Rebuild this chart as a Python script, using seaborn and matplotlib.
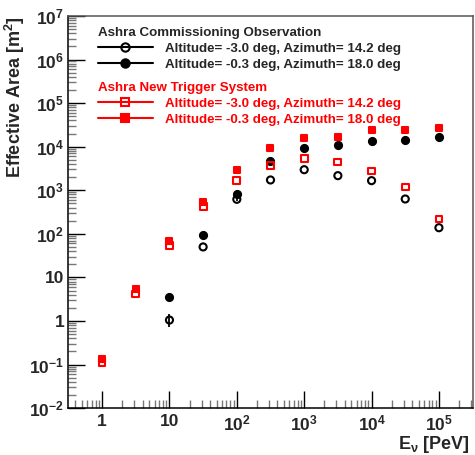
import numpy as np
import pandas as pd
import matplotlib
matplotlib.use("Agg")
import matplotlib.pyplot as plt
from matplotlib.lines import Line2D
from matplotlib.ticker import LogLocator, FixedLocator, FuncFormatter, NullFormatter
import seaborn as sns

# ---- data ----
energy = [1, 3.16, 10, 31.6, 100, 316, 1000, 3162, 1e4, 3.16e4, 1e5]
comm_alt30 = [np.nan, np.nan, 1.05, 50, 620, 1720, 2960, 2160, 1660, 630, 138]
comm_alt03 = [np.nan, np.nan, 3.5, 94, 800, 4770, 9480, 10800, 13500, 14000, 17000]
new_alt30 = [0.11, 4.15, 55, 420, 1660, 3660, 5400, 4450, 2770, 1190, 219]
new_alt03 = [0.135, 5.3, 69, 546, 2920, 9300, 15500, 16700, 24200, 24200, 26800]
err_x = [10, 10, 100, 100]
err_y = [1.05, 3.5, 620, 800]
err_lo = [0.33, 0.7, 60, 80]
err_hi = [0.37, 0.7, 60, 80]

labels = ["Altitude= -3.0 deg, Azimuth= 14.2 deg",
          "Altitude= -0.3 deg, Azimuth= 18.0 deg"]
header1 = "Ashra Commissioning Observation"
header2 = "Ashra New Trigger System"
xtick_vals = [1, 10, 1e2, 1e3, 1e4, 1e5]
ytick_vals = [1e-2, 1e-1, 1, 10, 1e2, 1e3, 1e4, 1e5, 1e6, 1e7]

sns.set_style("ticks")
plt.rcParams["font.family"] = ["Liberation Sans", "DejaVu Sans"]
plt.rcParams["font.weight"] = "bold"
plt.rcParams["mathtext.fontset"] = "custom"
plt.rcParams["mathtext.rm"] = "Liberation Sans:bold"
plt.rcParams["mathtext.it"] = "Liberation Sans:bold"
plt.rcParams["mathtext.bf"] = "Liberation Sans:bold"

fig = plt.figure(figsize=(4.75, 4.55), dpi=100)
ax = fig.add_axes([0.144, 0.103, 0.851, 0.862])

RED = "#ff0000"
series = [
    (comm_alt30, "o", "none", "black", 26),
    (comm_alt03, "o", "black", "black", 26),
    (new_alt30, "s", "none", RED, 24),
    (new_alt03, "s", RED, RED, 24),
]
for vals, mk, fc, ec, s in series:
    df = pd.DataFrame({"E": energy, "A": vals}).dropna()
    sns.scatterplot(data=df, x="E", y="A", marker=mk, s=s, facecolor=fc,
                    edgecolor=ec, linewidth=1.5, ax=ax, legend=False, zorder=3)

ax.errorbar(err_x, err_y, yerr=[err_lo, err_hi], fmt="none", ecolor="black",
            elinewidth=1.3, capsize=0, zorder=2)

ax.set_xscale("log")
ax.set_yscale("log")
ax.set_xlim(10**-0.5, 10**5.5)
ax.set_ylim(1e-2, 1e7)

def logfmt(v, pos):
    if abs(v - 1) < 1e-9:
        return "1"
    if abs(v - 10) < 1e-9:
        return "10"
    return r"$10^{%d}$" % int(round(np.log10(v)))

ax.yaxis.set_major_locator(FixedLocator(ytick_vals))
ax.yaxis.set_minor_locator(LogLocator(base=10, subs=np.arange(2, 10), numticks=100))
ax.xaxis.set_major_locator(FixedLocator(xtick_vals))
ax.xaxis.set_minor_locator(LogLocator(base=10, subs=np.arange(2, 10), numticks=100))
ax.yaxis.set_major_formatter(FuncFormatter(logfmt))
ax.xaxis.set_major_formatter(FuncFormatter(logfmt))
ax.xaxis.set_minor_formatter(NullFormatter())
ax.yaxis.set_minor_formatter(NullFormatter())

ax.tick_params(axis="both", which="major", direction="in", length=12, width=1,
               labelsize=12.5, color="black", pad=4)
ax.tick_params(axis="y", which="major", pad=3)
ax.tick_params(axis="both", which="minor", direction="in", length=6, width=1,
               color="#777777")
ax.tick_params(top=False, right=False, which="both")

for side in ["left", "bottom"]:
    ax.spines[side].set_color("black")
    ax.spines[side].set_linewidth(1.1)
for side in ["top", "right"]:
    ax.spines[side].set_color("#555555")
    ax.spines[side].set_linewidth(1.1)

ax.set_ylabel("Effective Area [m$^{2}$]", fontsize=13, fontweight="bold", loc="top")
ax.yaxis.set_label_coords(-0.103, 1.0)
ax.set_xlabel(r"E$_{\nu}$ [PeV]", fontsize=13, fontweight="bold", loc="right")
ax.xaxis.set_label_coords(0.994, -0.066)

def handle(mk, fc, ec):
    return Line2D([], [], color=ec, lw=1.5, marker=mk, markerfacecolor=fc,
                  markeredgecolor=ec, markersize=6, markeredgewidth=1.5)

common = dict(loc="upper left", frameon=False, fontsize=9.6,
              title_fontproperties={"weight": "bold", "size": 9.6},
              handlelength=4.1, handletextpad=0.9, labelspacing=0.27,
              borderaxespad=0, borderpad=0.0)
leg1 = ax.legend([handle("o", "none", "black"), handle("o", "black", "black")],
                 labels, title=header1, bbox_to_anchor=(0.073, 0.972), **common)
leg1._legend_box.align = "left"
ax.add_artist(leg1)
leg2 = ax.legend([handle("s", "none", RED), handle("s", RED, RED)],
                 labels, title=header2, bbox_to_anchor=(0.073, 0.831),
                 labelcolor=RED, **common)
leg2._legend_box.align = "left"
leg2.get_title().set_color(RED)

fig.savefig("out.png", dpi=100)
